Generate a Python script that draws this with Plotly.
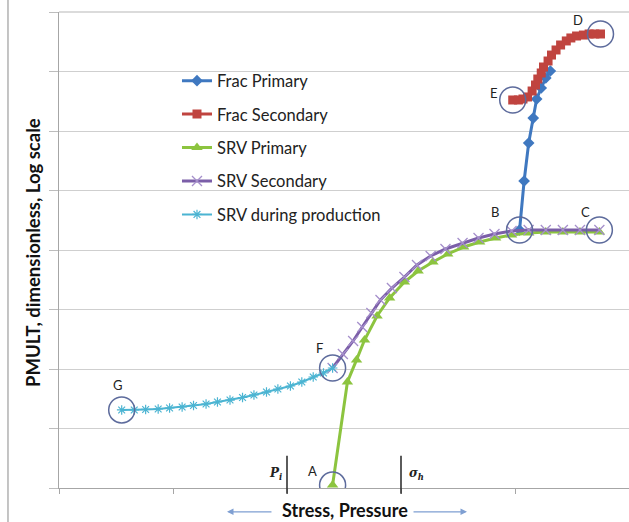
import math
import plotly.graph_objects as go

# Horizontal axis: stress / pressure (arbitrary linear units); vertical: PMULT on a log axis
prod_x = [0.55, 0.66, 0.76, 0.87, 0.97, 1.08, 1.18, 1.29, 1.39, 1.50, 1.61, 1.71,
          1.82, 1.92, 2.03, 2.13, 2.23, 2.32, 2.40]
prod_y = [20.5, 20.5, 20.9, 21.3, 22.1, 23.0, 24.4, 25.8, 27.9, 30.1, 33.2, 36.6,
          41.0, 46.1, 51.8, 60.5, 73.4, 85.7, 104]

srv_sec_x = [2.40, 2.49, 2.58, 2.66, 2.74, 2.82, 2.92, 3.03, 3.14, 3.26, 3.39, 3.54,
             3.68, 3.82, 3.97, 4.12, 4.27, 4.42, 4.57, 4.74]
srv_sec_y = [104, 179, 296, 508, 873, 1445, 2297, 3516, 5598, 7925, 10400, 13120,
             15920, 18580, 20850, 21680, 21680, 21680, 21680, 21680]

srv_pri_x = [2.40, 2.53, 2.61, 2.68, 2.79, 2.90, 3.03, 3.15, 3.28, 3.41, 3.55, 3.69,
             3.83, 3.97, 4.12, 4.27, 4.42, 4.57, 4.74]
srv_pri_y = [1.12, 60.5, 142, 307, 778, 1560, 2897, 4436, 6281, 8570, 11220, 13620,
             15920, 17870, 19320, 20090, 20090, 20090, 20090]

frac_pri_x = [4.04, 4.08, 4.12, 4.16, 4.19, 4.23, 4.27, 4.31]
frac_pri_y = [21680, 1.445e5, 6.28e5, 1.652e6, 3.45e6, 5.28e6, 7.78e6, 1.019e7]

frac_sec_x = [3.98, 4.03, 4.07, 4.11, 4.15, 4.18, 4.20, 4.23, 4.25, 4.29, 4.32, 4.36,
              4.40, 4.45, 4.49, 4.54, 4.60, 4.65, 4.70, 4.75]
frac_sec_y = [3.32e6, 3.32e6, 3.45e6, 3.73e6, 4.70e6, 5.93e6, 7.48e6, 9.44e6, 1.19e7,
              1.50e7, 1.89e7, 2.30e7, 2.79e7, 3.26e7, 3.66e7, 3.95e7, 4.10e7, 4.27e7,
              4.27e7, 4.27e7]

# Pressure markers on the horizontal axis
pi_x = 2.0
sigma_h_x = 3.0

FONT = "Lato"
BLUE, RED, GREEN, PURPLE, CYAN = "#3f78c0", "#c0443f", "#8cc43f", "#7b5ea8", "#4bb4d2"
CIRCLE = "#5d6b9c"
GRID = "#cfcfcf"

fig = go.Figure()

fig.add_trace(go.Scatter(
    x=frac_pri_x, y=frac_pri_y, name="Frac Primary", legendgroup="a",
    mode="lines+markers", line=dict(color=BLUE, width=3),
    marker=dict(symbol="diamond", size=9, color=BLUE)))
fig.add_trace(go.Scatter(
    x=frac_sec_x, y=frac_sec_y, name="Frac Secondary", legendgroup="b",
    mode="lines+markers", line=dict(color=RED, width=3),
    marker=dict(symbol="square", size=9, color=RED)))
fig.add_trace(go.Scatter(
    x=srv_pri_x, y=srv_pri_y, name="SRV Primary", legendgroup="c",
    mode="lines+markers", line=dict(color=GREEN, width=3),
    marker=dict(symbol="triangle-up", size=10, color=GREEN)))
fig.add_trace(go.Scatter(
    x=srv_sec_x, y=srv_sec_y, name="SRV Secondary", legendgroup="d",
    mode="lines+markers", line=dict(color=PURPLE, width=3),
    marker=dict(symbol="x-thin-open", size=10, color="#a58fcb",
                line=dict(color="#a58fcb", width=1.3))))
fig.add_trace(go.Scatter(
    x=prod_x, y=prod_y, name="SRV during production", legendgroup="e",
    mode="lines+markers", line=dict(color=CYAN, width=2),
    marker=dict(symbol="asterisk-open", size=8, color=CYAN,
                line=dict(color=CYAN, width=1.2))))

# Key states circled and lettered: (label, x, y, label shift x, label shift y)
key_points = [
    ("G", prod_x[0], prod_y[0], -4, 25),
    ("F", srv_sec_x[0], srv_sec_y[0], -13, 20),
    ("A", srv_pri_x[0], srv_pri_y[0], -20, 14),
    ("B", frac_pri_x[0], frac_pri_y[0], -25, 18),
    ("C", srv_sec_x[-1], srv_sec_y[-1], -14, 18),
    ("E", frac_sec_x[0], frac_sec_y[0], -19, 7),
    ("D", frac_sec_x[-1], frac_sec_y[-1], -23, 14),
]
fig.add_trace(go.Scatter(
    x=[p[1] for p in key_points], y=[p[2] for p in key_points],
    mode="markers", showlegend=False, hoverinfo="skip",
    marker=dict(symbol="circle-open", size=26, color=CIRCLE,
                line=dict(color=CIRCLE, width=1.5))))
for lab, x, y, dx, dy in key_points:
    # annotations on a log axis take log10 positions
    fig.add_annotation(x=x, y=math.log10(y), text=lab, showarrow=False,
                       xshift=dx, yshift=dy, xanchor="center", yanchor="middle",
                       font=dict(family=FONT, size=13, color="#222"))

# Pressure marker lines and symbols
for xv in (pi_x, sigma_h_x):
    fig.add_shape(type="line", xref="x", yref="paper", x0=xv, x1=xv,
                  y0=-0.012, y1=0.068, line=dict(color="#333", width=1.6))
fig.add_annotation(x=pi_x, xref="x", y=0.029, yref="paper", xshift=-12, showarrow=False,
                   xanchor="center", yanchor="middle",
                   text="<b><i>P<sub>i</sub></i></b>",
                   font=dict(family="DejaVu Serif", size=12, color="#222"))
fig.add_annotation(x=sigma_h_x, xref="x", y=0.029, yref="paper", xshift=15, showarrow=False,
                   xanchor="center", yanchor="middle",
                   text="<b><i>σ<sub>h</sub></i></b>",
                   font=dict(family="DejaVu Serif", size=12, color="#222"))

# Axis titles
fig.add_annotation(x=-0.0456, y=0.4937, xref="paper", yref="paper", showarrow=False,
                   xanchor="center", yanchor="middle", textangle=-90,
                   text="<b>PMULT, dimensionless, Log scale</b>",
                   font=dict(family=FONT, size=18.5, color="#111"))
fig.add_annotation(x=0.5018, y=-0.047, xref="paper", yref="paper", showarrow=False,
                   xanchor="center", yanchor="middle",
                   text="<b>Stress, Pressure</b>",
                   font=dict(family=FONT, size=18, color="#111"))
# Direction arrows beside the horizontal title
fig.add_annotation(x=0.2947, y=-0.05, xref="paper", yref="paper", ax=46, ay=0,
                   text="", showarrow=True, arrowhead=2, arrowsize=1, arrowwidth=1.3,
                   arrowcolor="#7f9fd2")
fig.add_annotation(x=0.7158, y=-0.05, xref="paper", yref="paper", ax=-55, ay=0,
                   text="", showarrow=True, arrowhead=2, arrowsize=1, arrowwidth=1.3,
                   arrowcolor="#7f9fd2")

# Top gridline closing the plot area
fig.add_shape(type="line", xref="paper", yref="paper", x0=0, x1=1, y0=1, y1=1,
              line=dict(color=GRID, width=1.5), layer="below")
# Outer frame edge on the left
fig.add_shape(type="line", xref="paper", yref="paper", x0=-0.0895, x1=-0.0895,
              y0=-0.08, y1=1.03, line=dict(color="#8a8a8a", width=1))

fig.update_layout(
    width=629, height=522,
    margin=dict(l=59, r=0, t=12, b=34),
    paper_bgcolor="white", plot_bgcolor="white",
    font=dict(family=FONT, size=16.5, color="#222"),
    showlegend=True,
    legend=dict(x=0.207, y=0.892, xanchor="left", yanchor="top",
                bgcolor="rgba(0,0,0,0)", tracegroupgap=9,
                font=dict(family=FONT, size=16.5, color="#222")),
    xaxis=dict(range=[0, 5.0], showgrid=False, zeroline=False, showticklabels=False,
               showline=True, linecolor="#a6a6a6", linewidth=1,
               ticks="outside", ticklen=5, tickcolor="#a6a6a6", dtick=1, tick0=0),
    yaxis=dict(type="log", range=[0, 8], dtick=1, showgrid=True, gridcolor=GRID,
               gridwidth=1, zeroline=False, showticklabels=False,
               showline=True, linecolor="#a6a6a6", linewidth=1,
               ticks="outside", ticklen=9, tickcolor="#bdbdbd"),
)

fig.write_html("out.html")
